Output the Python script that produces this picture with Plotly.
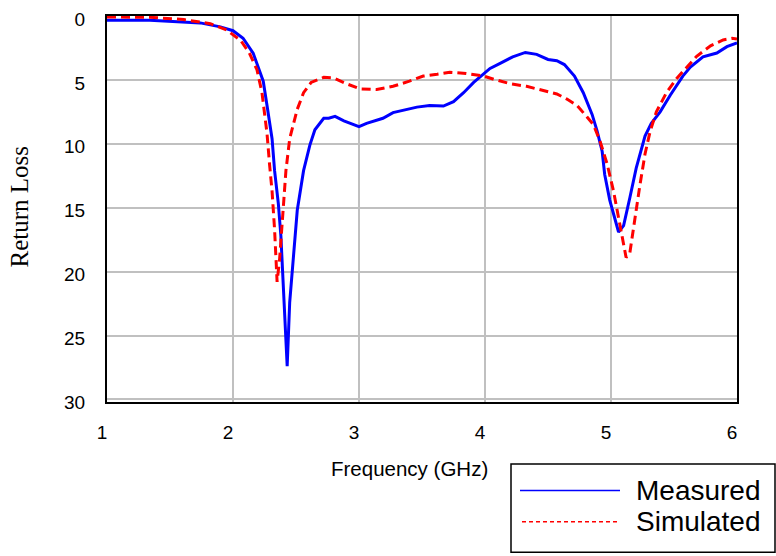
import plotly.graph_objects as go

# ---- data ----
meas_freq = [1.00, 1.34, 1.74, 1.90, 2.00, 2.08, 2.16, 2.21, 2.24, 2.27, 2.31, 2.33, 2.36, 2.38,
             2.40, 2.43, 2.45, 2.48, 2.51, 2.56, 2.61, 2.65, 2.72, 2.76, 2.81, 2.88, 2.94, 3.00,
             3.06, 3.12, 3.19, 3.27, 3.38, 3.46, 3.56, 3.67, 3.75, 3.83, 3.91, 3.99, 4.04, 4.12,
             4.22, 4.32, 4.41, 4.50, 4.57, 4.63, 4.71, 4.78, 4.85, 4.89, 4.93, 4.95, 4.99, 5.06,
             5.10, 5.15, 5.20, 5.27, 5.32, 5.39, 5.47, 5.57, 5.63, 5.73, 5.84, 5.92, 6.00]
meas_rl = [0.33, 0.33, 0.54, 0.85, 1.15, 1.74, 2.9, 4.2, 5.1, 7.0, 9.6, 12.1, 14.7, 17.2,
           21.1, 27.4, 22.4, 18.5, 15.2, 12.1, 10.1, 8.9, 8.0, 8.0, 7.85, 8.2, 8.4, 8.65,
           8.4, 8.2, 8.0, 7.56, 7.3, 7.13, 7.0, 7.05, 6.7, 6.0, 5.2, 4.5, 4.1, 3.7,
           3.2, 2.85, 3.0, 3.4, 3.5, 3.8, 4.7, 6.0, 7.7, 9.0, 10.6, 12.4, 14.4, 16.9,
           16.4, 14.2, 11.9, 9.4, 8.4, 7.5, 6.2, 4.7, 4.0, 3.2, 2.9, 2.4, 2.1]

sim_freq = [1.00, 1.34, 1.61, 1.82, 1.95, 2.06, 2.13, 2.19, 2.23, 2.25, 2.27, 2.29, 2.31, 2.33,
            2.35, 2.37, 2.40, 2.42, 2.45, 2.51, 2.56, 2.62, 2.72, 2.80, 2.90, 3.01, 3.14, 3.27,
            3.40, 3.51, 3.62, 3.72, 3.85, 3.99, 4.07, 4.20, 4.33, 4.46, 4.57, 4.65, 4.73, 4.81,
            4.86, 4.91, 4.97, 5.02, 5.07, 5.12, 5.15, 5.19, 5.23, 5.27, 5.31, 5.36, 5.44, 5.52,
            5.60, 5.68, 5.79, 5.89, 5.96, 6.00]
sim_rl = [0.08, 0.1, 0.28, 0.6, 1.1, 1.9, 2.9, 4.2, 6.0, 7.8, 9.2, 11.6, 13.7, 16.7,
          20.8, 19.0, 14.7, 12.1, 9.6, 7.3, 6.0, 5.2, 4.8, 4.85, 5.3, 5.7, 5.75, 5.5,
          5.1, 4.7, 4.56, 4.4, 4.5, 4.7, 4.95, 5.3, 5.5, 5.8, 6.1, 6.5, 7.0, 7.9,
          8.5, 9.7, 11.6, 13.7, 16.2, 18.9, 18.5, 15.7, 13.2, 10.8, 9.05, 7.5, 6.0, 4.9,
          4.05, 3.15, 2.33, 1.87, 1.75, 1.8]

x_ticks = [1, 2, 3, 4, 5, 6]
y_ticks = [0, 5, 10, 15, 20, 25, 30]
series_names = ["Measured", "Simulated"]
x_title = "Frequency (GHz)"
y_title = "Return Loss"

# ---- layout geometry (pixels) ----
W, H = 776, 556
L, R, T, B = 107, 39, 9, 154
PW, PH = W - L - R, H - T - B


def px(xp):
    return (xp - L) / PW


def py(yp):
    return (H - B - yp) / PH


SANS = "Liberation Sans, Arial, sans-serif"
SERIF = "Liberation Serif, Times New Roman, serif"

fig = go.Figure()
fig.add_trace(go.Scatter(x=meas_freq, y=meas_rl, mode="lines", name=series_names[0],
                         line=dict(color="#0000ff", width=3)))
fig.add_trace(go.Scatter(x=sim_freq, y=sim_rl, mode="lines", name=series_names[1],
                         line=dict(color="#ff0000", width=3, dash="9px,5px")))

fig.update_layout(
    width=W, height=H,
    margin=dict(l=L, r=R, t=T, b=B),
    paper_bgcolor="white", plot_bgcolor="white",
    showlegend=False,
    font=dict(family=SANS, color="black"),
)
fig.update_xaxes(range=[1, 6], tickvals=x_ticks, ticktext=[str(v) for v in x_ticks],
                 showgrid=True, gridcolor="#c0c0c0", gridwidth=1.5,
                 showline=True, linecolor="black", linewidth=2, mirror=True,
                 ticks="", zeroline=False,
                 tickfont=dict(size=19, family=SANS, color="black"),
                 ticklabelstandoff=12, ticklabelshift=-5)
fig.update_yaxes(range=[30.2, 0], tickvals=y_ticks, ticktext=[str(v) for v in y_ticks],
                 showgrid=True, gridcolor="#c0c0c0", gridwidth=1.5,
                 showline=True, linecolor="black", linewidth=2, mirror=True,
                 ticks="", zeroline=False,
                 tickfont=dict(size=19, family=SANS, color="black"),
                 ticklabelstandoff=16, ticklabelshift=-3)

# axis titles
fig.add_annotation(text=x_title, xref="paper", yref="paper", x=px(409), y=py(470),
                   showarrow=False, xanchor="center", yanchor="middle",
                   font=dict(size=20.5, family=SANS, color="black"))
fig.add_annotation(text=y_title, xref="paper", yref="paper", x=px(20), y=py(203),
                   showarrow=False, xanchor="center", yanchor="middle", textangle=-90,
                   font=dict(size=25, family=SERIF, color="black"))

# legend box drawn in paper space
fig.add_shape(type="rect", xref="paper", yref="paper",
              x0=px(511), x1=px(775), y0=py(465), y1=py(555),
              line=dict(color="black", width=1.5), fillcolor="white")
fig.add_shape(type="line", xref="paper", yref="paper",
              x0=px(520), x1=px(620), y0=py(492), y1=py(492),
              line=dict(color="#0000ff", width=1.5))
fig.add_shape(type="line", xref="paper", yref="paper",
              x0=px(522), x1=px(620), y0=py(524), y1=py(524),
              line=dict(color="#ff0000", width=1.5, dash="4px,3px"))
fig.add_annotation(text=series_names[0], xref="paper", yref="paper", x=px(634), y=py(492),
                   showarrow=False, xanchor="left", yanchor="middle",
                   font=dict(size=28, family=SANS, color="black"))
fig.add_annotation(text=series_names[1], xref="paper", yref="paper", x=px(634), y=py(524),
                   showarrow=False, xanchor="left", yanchor="middle",
                   font=dict(size=28, family=SANS, color="black"))

fig.write_html("out.html",
               config={"displayModeBar": False},
               post_script="document.body.style.margin='0';document.body.style.overflow='hidden';")
